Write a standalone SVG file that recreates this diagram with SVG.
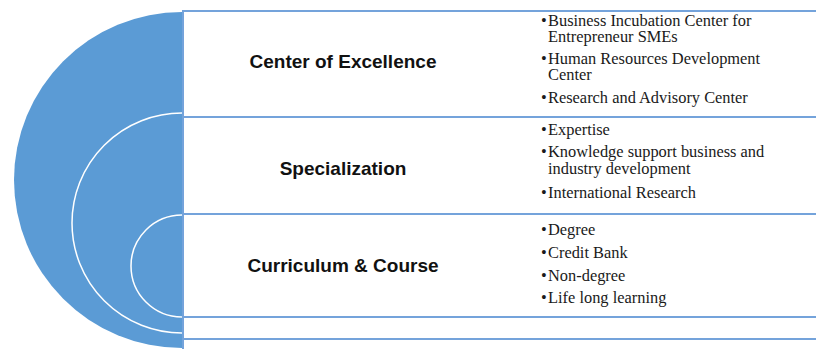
<svg xmlns="http://www.w3.org/2000/svg" width="816" height="349" viewBox="0 0 816 349">
<style>
.rule{stroke:#74A3DB;stroke-width:2;fill:none}
.ring{fill:none;stroke:#FFFFFF;stroke-width:1.5}
.head{font-family:"Liberation Sans",Arial,sans-serif;font-weight:bold;font-size:19px;fill:#111111;text-anchor:middle}
.item{font-family:"Liberation Serif","Times New Roman",serif;font-size:16.4px;fill:#1a1a1a}
.dot{font-family:"Liberation Serif","Times New Roman",serif;font-size:16.4px;fill:#1a1a1a}
</style>
<rect width="816" height="349" fill="#FFFFFF"/>
<g id="rings">
<path d="M182,12 A168,168 0 0 0 182,348 Z" fill="#5B9BD5"/>
<path class="ring" d="M182,113 A110,110 0 0 0 182,333"/>
<path class="ring" d="M182,215 A51,51 0 0 0 182,317"/>
</g>
<g id="frame">
<line class="rule" x1="183" y1="10" x2="183" y2="349"/>
<line class="rule" x1="182" y1="11" x2="816" y2="11"/>
<line class="rule" x1="182" y1="117" x2="816" y2="117"/>
<line class="rule" x1="182" y1="214" x2="816" y2="214"/>
<line class="rule" x1="182" y1="317" x2="816" y2="317"/>
<line class="rule" x1="182" y1="339" x2="816" y2="339"/>
</g>
<g id="center-of-excellence">
<text class="head" x="343" y="68">Center of Excellence</text>
<text class="dot" x="541" y="26">•</text>
<text class="item" x="548" y="26">Business Incubation Center for<tspan x="548" y="42">Entrepreneur SMEs</tspan></text>
<text class="dot" x="541" y="63.5">•</text>
<text class="item" x="548" y="63.5">Human Resources Development<tspan x="548" y="80">Center</tspan></text>
<text class="dot" x="541" y="102.5">•</text>
<text class="item" x="548" y="102.5">Research and Advisory Center</text>
</g>
<g id="specialization">
<text class="head" x="343" y="175">Specialization</text>
<text class="dot" x="541" y="135">•</text>
<text class="item" x="548" y="135">Expertise</text>
<text class="dot" x="541" y="157">•</text>
<text class="item" x="548" y="157">Knowledge support business and<tspan x="548" y="174">industry development</tspan></text>
<text class="dot" x="541" y="197.5">•</text>
<text class="item" x="548" y="197.5">International Research</text>
</g>
<g id="curriculum-course">
<text class="head" x="343" y="272">Curriculum &amp; Course</text>
<text class="dot" x="541" y="235">•</text>
<text class="item" x="548" y="235">Degree</text>
<text class="dot" x="541" y="258">•</text>
<text class="item" x="548" y="258">Credit Bank</text>
<text class="dot" x="541" y="280.5">•</text>
<text class="item" x="548" y="280.5">Non-degree</text>
<text class="dot" x="541" y="303">•</text>
<text class="item" x="548" y="303">Life long learning</text>
</g>
</svg>
